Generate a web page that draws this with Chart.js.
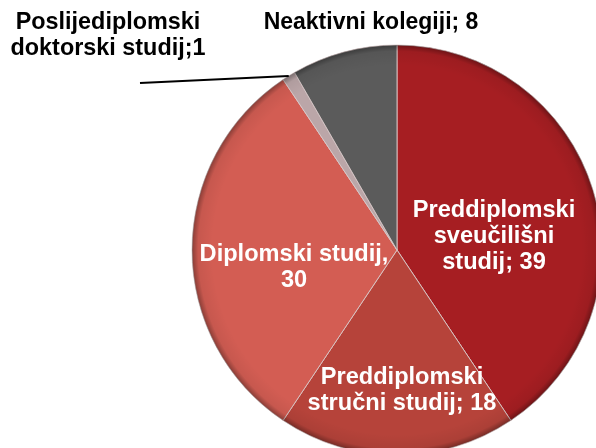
<!DOCTYPE html>
<html lang="hr">
<head>
  <meta charset="UTF-8">
  <title>Kolegiji po studijima</title>
  <script src="https://cdn.jsdelivr.net/npm/chart.js"></script>
  <style>
    body, html {
      margin: 0;
      padding: 0;
      overflow: hidden;
      background: #ffffff;
    }
    #wrap {
      width: 596px;
      height: 448px;
    }
  </style>
</head>
<body>
  <div id="wrap"><canvas id="pieChart"></canvas></div>

  <script>
    // Data
    const categories = [
      'Preddiplomski sveučilišni studij',
      'Preddiplomski stručni studij',
      'Diplomski studij',
      'Poslijediplomski doktorski studij',
      'Neaktivni kolegiji'
    ];
    const counts = [39, 18, 30, 1, 8];
    // label text as printed on the chart
    const labelLines = [
      ['Preddiplomski', 'sveučilišni', 'studij; 39'],
      ['Preddiplomski', 'stručni studij; 18'],
      ['Diplomski studij,', '30'],
      ['Poslijediplomski', 'doktorski studij;1'],
      ['Neaktivni kolegiji; 8']
    ];
    const sliceColors = ['#a61e22', '#b6433a', '#d35d53', '#bba6a8', '#5b5b5b'];

    // label placement relative to pie centre (dx, dy of text block centre), colour, font size
    const labelPlace = [
      { dx: 97, dy: -14, color: '#ffffff', size: 23.6 },
      { dx: 5, dy: 140, color: '#ffffff', size: 23.6 },
      { dx: -103, dy: 17, color: '#ffffff', size: 23.6 },
      { dx: -289, dy: -214, color: '#000000', size: 23.4, leader: { dx: -257, dy: -167 } },
      { dx: -26, dy: -227, color: '#000000', size: 23 }
    ];

    // darker rim to imitate the bevelled look
    const bevelPlugin = {
      id: 'bevel',
      afterDatasetsDraw(chart) {
        const ctx = chart.ctx;
        const arcs = chart.getDatasetMeta(0).data;
        arcs.forEach(arc => {
          const { x, y, startAngle, endAngle, outerRadius } = arc.getProps(['x', 'y', 'startAngle', 'endAngle', 'outerRadius'], true);
          const g = ctx.createRadialGradient(x, y, outerRadius * 0.9, x, y, outerRadius);
          g.addColorStop(0, 'rgba(0,0,0,0)');
          g.addColorStop(0.7, 'rgba(0,0,0,0.06)');
          g.addColorStop(1, 'rgba(0,0,0,0.35)');
          ctx.save();
          ctx.beginPath();
          ctx.moveTo(x, y);
          ctx.arc(x, y, outerRadius, startAngle, endAngle);
          ctx.closePath();
          ctx.fillStyle = g;
          ctx.fill();
          ctx.restore();
        });
      }
    };

    const labelPlugin = {
      id: 'sliceLabels',
      afterDraw(chart) {
        const ctx = chart.ctx;
        const arcs = chart.getDatasetMeta(0).data;
        const lineH = 26;
        ctx.save();
        ctx.textAlign = 'center';
        ctx.textBaseline = 'middle';
        arcs.forEach((arc, i) => {
          const { x, y, startAngle, endAngle, outerRadius } = arc.getProps(['x', 'y', 'startAngle', 'endAngle', 'outerRadius'], true);
          const p = labelPlace[i];
          const lines = labelLines[i];
          if (p.leader) {
            const mid = (startAngle + endAngle) / 2;
            ctx.beginPath();
            ctx.moveTo(x + p.leader.dx, y + p.leader.dy);
            ctx.lineTo(x + Math.cos(mid) * outerRadius, y + Math.sin(mid) * outerRadius);
            ctx.strokeStyle = '#000000';
            ctx.lineWidth = 2;
            ctx.stroke();
          }
          ctx.font = 'bold ' + p.size + 'px "Liberation Sans", Arial, sans-serif';
          ctx.fillStyle = p.color;
          const top = y + p.dy - (lines.length - 1) * lineH / 2;
          lines.forEach((t, k) => {
            ctx.fillText(t, x + p.dx, top + k * lineH);
          });
        });
        ctx.restore();
      }
    };

    const ctx = document.getElementById('pieChart').getContext('2d');
    new Chart(ctx, {
      type: 'pie',
      data: {
        labels: categories,
        datasets: [{
          data: counts,
          backgroundColor: sliceColors,
          borderColor: 'rgba(215, 200, 200, 0.9)',
          borderWidth: 1
        }]
      },
      options: {
        responsive: true,
        maintainAspectRatio: false,
        animation: false,
        radius: 205,
        layout: {
          padding: { left: 198, top: 52, right: 0, bottom: 0 }
        },
        plugins: {
          legend: { display: false },
          tooltip: { enabled: false }
        }
      },
      plugins: [bevelPlugin, labelPlugin]
    });
  </script>
</body>
</html>
